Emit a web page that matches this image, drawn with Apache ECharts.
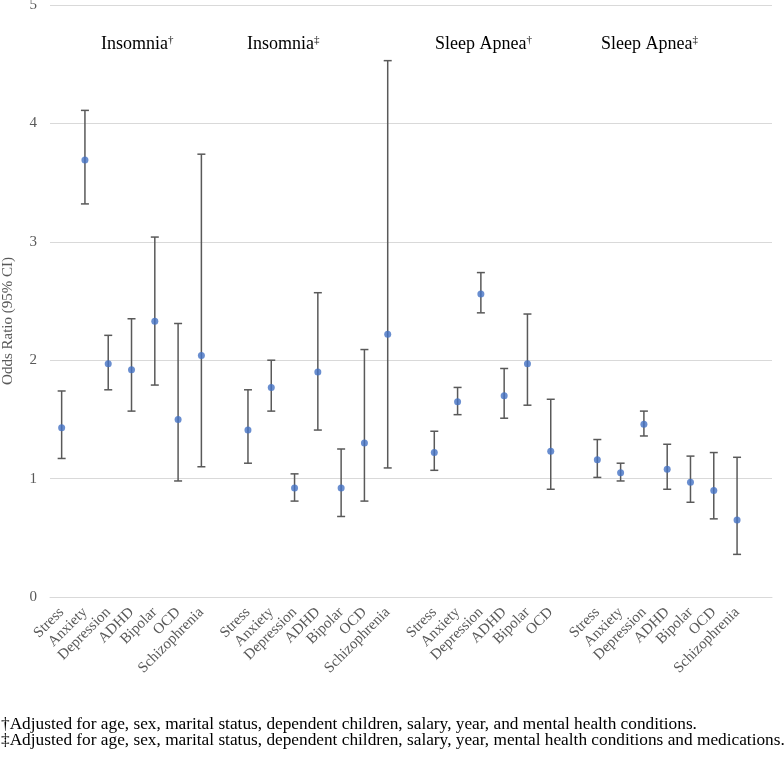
<!DOCTYPE html>
<html>
<head>
<meta charset="utf-8">
<script src="https://cdn.jsdelivr.net/npm/echarts@6/dist/echarts.min.js"></script>
<style>
  html, body { margin: 0; padding: 0; background: #fff; }
  #chart { width: 784px; height: 764px; }
</style>
</head>
<body>
<div id="chart"></div>
<script>
// categories, blank ones split the four groups
var categories = [
  'Stress','Anxiety','Depression','ADHD','Bipolar','OCD','Schizophrenia','',
  'Stress','Anxiety','Depression','ADHD','Bipolar','OCD','Schizophrenia','',
  'Stress','Anxiety','Depression','ADHD','Bipolar','OCD','',
  'Stress','Anxiety','Depression','ADHD','Bipolar','OCD','Schizophrenia',''
];
var oddsRatio = [
  1.43,3.69,1.97,1.92,2.33,1.50,2.04,null,
  1.41,1.77,0.92,1.90,0.92,1.30,2.22,null,
  1.22,1.65,2.56,1.70,1.97,1.23,null,
  1.16,1.05,1.46,1.08,0.97,0.90,0.65,null
];
var ciLower = [
  1.17,3.32,1.75,1.57,1.79,0.98,1.10,null,
  1.13,1.57,0.81,1.41,0.68,0.81,1.09,null,
  1.07,1.54,2.40,1.51,1.62,0.91,null,
  1.01,0.98,1.36,0.91,0.80,0.66,0.36,null
];
var ciUpper = [
  1.74,4.11,2.21,2.35,3.04,2.31,3.74,null,
  1.75,2.00,1.04,2.57,1.25,2.09,4.53,null,
  1.40,1.77,2.74,1.93,2.39,1.67,null,
  1.33,1.13,1.57,1.29,1.19,1.22,1.18,null
];
var groupTitles = ['Insomnia','Insomnia','Sleep Apnea','Sleep Apnea'];
var groupMarks = ['\u2020','\u2021','\u2020','\u2021'];
var footnotes = [
  '\u2020Adjusted for age, sex, marital status, dependent children, salary, year, and mental health conditions.',
  '\u2021Adjusted for age, sex, marital status, dependent children, salary, year, mental health conditions and medications.'
];

var serif = '"Liberation Serif", "DejaVu Serif", serif';
var groupLeft = [101, 247, 435, 601];

var pointData = [], barData = [];
for (var i = 0; i < categories.length; i++) {
  if (oddsRatio[i] == null) continue;
  pointData.push([i, oddsRatio[i]]);
  barData.push([i, ciLower[i], ciUpper[i]]);
}

var graphics = groupTitles.map(function(t, i) {
  return {
    type: 'text', left: groupLeft[i], top: 35,
    style: {
      text: '{a|' + t + '}{s|' + groupMarks[i] + '}',
      rich: {
        a: { fontFamily: serif, fontSize: 18, fill: '#000' },
        s: { fontFamily: serif, fontSize: 11, fill: '#000', verticalAlign: 'top' }
      }
    }
  };
});
footnotes.forEach(function(t, i) {
  graphics.push({
    type: 'text', left: 1, top: 716 + i * 16,
    style: { text: t, fontFamily: serif, fontSize: 17.3, fill: '#000' }
  });
});

var chart = echarts.init(document.getElementById('chart'));
chart.setOption({
  animation: false,
  grid: { left: 50, right: 12, top: 5, bottom: 167, outerBoundsMode: 'none' },
  graphic: graphics,
  xAxis: {
    type: 'category',
    data: categories,
    axisLine: { show: true, lineStyle: { color: '#d9d9d9', width: 1 } },
    axisTick: { show: false },
    axisLabel: {
      interval: 0, rotate: 45, margin: 13,
      fontFamily: serif, fontSize: 15, color: '#595959'
    },
    splitLine: { show: false }
  },
  yAxis: {
    type: 'value',
    min: 0, max: 5, interval: 1,
    name: 'Odds Ratio (95% CI)',
    nameLocation: 'middle',
    nameGap: 34,
    nameTextStyle: { fontFamily: serif, fontSize: 15, color: '#595959', padding: [0, 40, 0, 0] },
    axisLine: { show: false },
    axisTick: { show: false },
    axisLabel: { fontFamily: serif, fontSize: 15, color: '#595959', margin: 13 },
    splitLine: { lineStyle: { color: '#d9d9d9', width: 1 } }
  },
  series: [
    {
      type: 'custom',
      data: barData,
      renderItem: function(params, api) {
        var lo = api.coord([api.value(0), api.value(1)]);
        var hi = api.coord([api.value(0), api.value(2)]);
        var w = 4;
        var st = { stroke: '#595959', lineWidth: 1.5 };
        return {
          type: 'group',
          children: [
            { type: 'line', shape: { x1: lo[0], y1: lo[1], x2: hi[0], y2: hi[1] }, style: st },
            { type: 'line', shape: { x1: lo[0] - w, y1: lo[1], x2: lo[0] + w, y2: lo[1] }, style: st },
            { type: 'line', shape: { x1: hi[0] - w, y1: hi[1], x2: hi[0] + w, y2: hi[1] }, style: st }
          ]
        };
      },
      z: 2
    },
    {
      type: 'scatter',
      data: pointData,
      symbolSize: 7,
      itemStyle: { color: '#4472C4' },
      z: 3
    }
  ]
});
</script>
</body>
</html>
